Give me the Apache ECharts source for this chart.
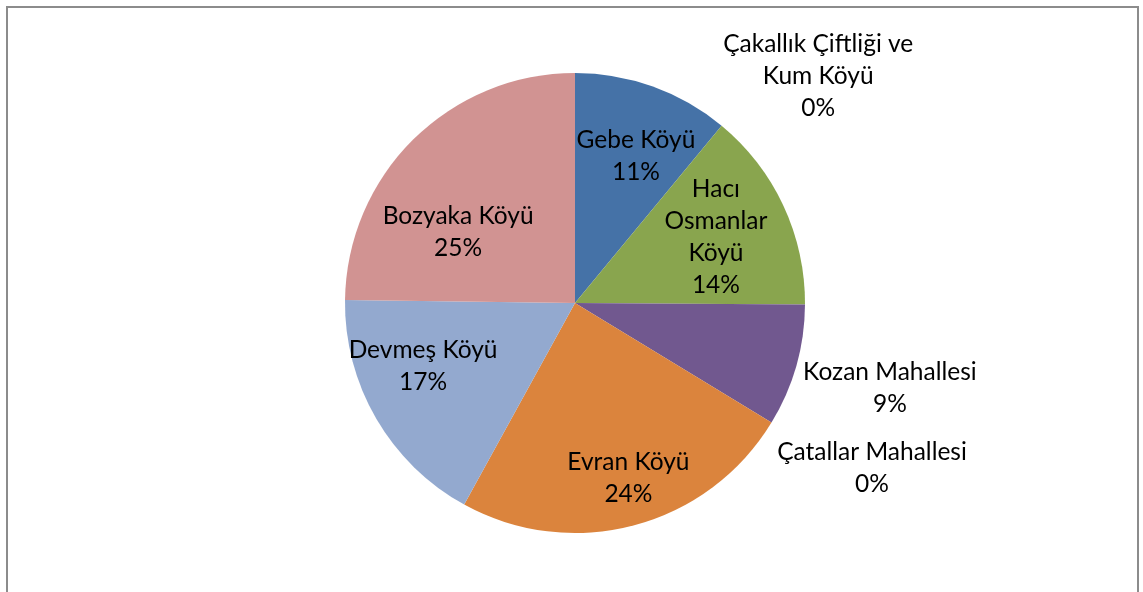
<!DOCTYPE html>
<html>
<head>
<meta charset="utf-8">
<script src="https://cdn.jsdelivr.net/npm/echarts@6/dist/echarts.min.js"></script>
<style>
html,body{margin:0;padding:0;background:#fff;}
#chart{width:1143px;height:592px;}
</style>
</head>
<body>
<div id="chart"></div>
<script>
// Data (clockwise from 12 o'clock)
const categories = [
  'Gebe Köyü',
  'Çakallık Çiftliği ve Kum Köyü',
  'Hacı Osmanlar Köyü',
  'Kozan Mahallesi',
  'Çatallar Mahallesi',
  'Evran Köyü',
  'Devmeş Köyü',
  'Bozyaka Köyü'
];
const values = [11.0, 0, 14.1, 8.6, 0, 24.3, 17.2, 24.8];
const colors = ['#4572A7', '#AA4643', '#89A54E', '#71588F', '#4198AF', '#DB843D', '#93A9CF', '#D19392'];

// label placement style (not data)
const labelPos = ['inside', 'inside', 'inside', 'outside', 'outside', 'inside', 'inside', 'inside'];
const wrapChars = [30, 20, 8, 30, 30, 30, 30, 30];
const labelNudge = [[21, -36], [168, -136], [34, -16], [79, 20], [87, 40], [23, 61], [-50, 4], [-34, 13]];

function wordWrap(text, maxChars) {
  const words = text.split(' ');
  const lines = [];
  let cur = '';
  words.forEach(w => {
    const next = cur ? cur + ' ' + w : w;
    if (next.length > maxChars && cur) { lines.push(cur); cur = w; }
    else cur = next;
  });
  if (cur) lines.push(cur);
  return lines.join('\n');
}

const chart = echarts.init(document.getElementById('chart'), null, {renderer: 'canvas'});
const data = categories.map((name, i) => ({
  name: name,
  value: values[i],
  itemStyle: {color: colors[i]},
  label: {position: labelPos[i]}
}));

chart.setOption({
  backgroundColor: '#ffffff',
  animation: false,
  graphic: [{
    type: 'rect',
    shape: {x: 7, y: 7, width: 1131, height: 640},
    style: {fill: 'none', stroke: '#8c8c8c', lineWidth: 2},
    silent: true
  }],
  series: [{
    type: 'pie',
    center: [575, 303],
    radius: 230,
    startAngle: 90,
    clockwise: true,
    avoidLabelOverlap: false,
    minShowLabelAngle: 0,
    data: data,
    label: {
      show: true,
      color: '#000',
      fontFamily: 'Lato',
      fontSize: 24.5,
      lineHeight: 32,
      align: 'center',
      formatter: p => wordWrap(p.name, wrapChars[p.dataIndex]) + '\n' + Math.round(p.percent) + '%'
    },
    labelLine: {show: false, length: 10, length2: 0},
    labelLayout: function (p) {
      const n = labelNudge[p.dataIndex];
      return {dx: n[0], dy: n[1], align: 'center', verticalAlign: 'middle'};
    },
    itemStyle: {borderWidth: 0},
    emphasis: {disabled: true}
  }]
});
</script>
</body>
</html>
